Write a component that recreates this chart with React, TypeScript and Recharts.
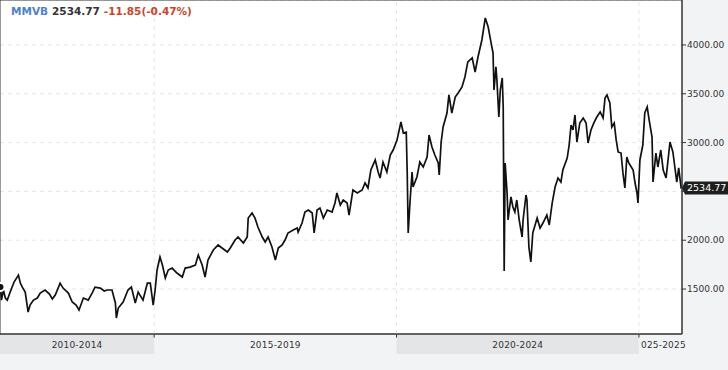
import React from "react";
import { LineChart, Line, XAxis, YAxis, CartesianGrid, ReferenceLine, ReferenceArea } from "recharts";

// ---- data (decimal year, index value) ----
const T = [
  2011.83, 2011.85, 2011.89, 2011.93, 2011.97, 2012.03, 2012.11, 2012.2, 2012.24, 2012.28,
  2012.34, 2012.4, 2012.44, 2012.51, 2012.59, 2012.65, 2012.75, 2012.84, 2012.9, 2012.96,
  2013.06, 2013.12, 2013.23, 2013.31, 2013.39, 2013.45, 2013.54, 2013.64, 2013.72, 2013.78,
  2013.89, 2013.97, 2014.03, 2014.13, 2014.2, 2014.22, 2014.26, 2014.36, 2014.46, 2014.53,
  2014.61, 2014.67, 2014.77, 2014.86, 2014.92, 2014.98, 2015.02, 2015.06, 2015.12, 2015.17,
  2015.23, 2015.29, 2015.37, 2015.47, 2015.58, 2015.64, 2015.74, 2015.85, 2015.91, 2015.99,
  2016.05, 2016.11, 2016.22, 2016.32, 2016.4, 2016.51, 2016.57, 2016.67, 2016.73, 2016.84,
  2016.92, 2016.94, 2017.02, 2017.08, 2017.14, 2017.23, 2017.29, 2017.35, 2017.43, 2017.5,
  2017.56, 2017.64, 2017.7, 2017.76, 2017.87, 2017.95, 2017.97, 2018.05, 2018.11, 2018.18,
  2018.26, 2018.3, 2018.36, 2018.42, 2018.49, 2018.57, 2018.67, 2018.73, 2018.77, 2018.84,
  2018.9, 2018.98, 2019.02, 2019.1, 2019.19, 2019.29, 2019.35, 2019.41, 2019.47, 2019.56,
  2019.62, 2019.66, 2019.72, 2019.8, 2019.87, 2019.93, 2020.01, 2020.09, 2020.14, 2020.2,
  2020.22, 2020.24, 2020.28, 2020.32, 2020.34, 2020.42, 2020.48, 2020.55, 2020.63, 2020.67,
  2020.73, 2020.79, 2020.86, 2020.88, 2020.92, 2020.96, 2021.04, 2021.08, 2021.14, 2021.21,
  2021.27, 2021.35, 2021.41, 2021.47, 2021.56, 2021.62, 2021.68, 2021.76, 2021.83, 2021.89,
  2021.95, 2021.99, 2022.01, 2022.05, 2022.07, 2022.11, 2022.14, 2022.18, 2022.2, 2022.22,
  2022.24, 2022.28, 2022.3, 2022.36, 2022.4, 2022.44, 2022.48, 2022.53, 2022.59, 2022.61,
  2022.67, 2022.69, 2022.73, 2022.77, 2022.81, 2022.9, 2022.96, 2023.02, 2023.1, 2023.15,
  2023.21, 2023.27, 2023.33, 2023.39, 2023.43, 2023.52, 2023.56, 2023.6, 2023.64, 2023.68,
  2023.72, 2023.78, 2023.85, 2023.91, 2023.95, 2024.01, 2024.07, 2024.13, 2024.2, 2024.26,
  2024.3, 2024.34, 2024.4, 2024.44, 2024.49, 2024.53, 2024.57, 2024.63, 2024.67, 2024.71,
  2024.75, 2024.79, 2024.88, 2024.92, 2024.96, 2024.98, 2025.02, 2025.08, 2025.12, 2025.17,
  2025.21, 2025.27, 2025.29, 2025.35, 2025.39, 2025.45, 2025.5, 2025.56, 2025.6, 2025.64,
  2025.7, 2025.74, 2025.78, 2025.82, 2025.87, 2025.88,
];
const V = [
  1520, 1387, 1490, 1408, 1387, 1469, 1572, 1643, 1561, 1520,
  1469, 1264, 1336, 1387, 1408, 1459, 1490, 1449, 1398, 1439,
  1561, 1510, 1459, 1367, 1336, 1285, 1408, 1387, 1459, 1520,
  1510, 1480, 1490, 1490, 1357, 1203, 1305, 1367, 1490, 1520,
  1357, 1469, 1387, 1561, 1561, 1336, 1490, 1695, 1828, 1746,
  1613, 1695, 1715, 1664, 1623, 1715, 1725, 1746, 1848, 1746,
  1623, 1797, 1900, 1951, 1920, 1879, 1920, 2002, 2033, 1971,
  2033, 2227, 2279, 2227, 2135, 2033, 1982, 2033, 1930, 1797,
  1920, 1951, 2002, 2074, 2105, 2125, 2084, 2176, 2289, 2309,
  2279, 2074, 2309, 2330, 2227, 2309, 2289, 2381, 2484, 2361,
  2412, 2381, 2258, 2514, 2484, 2514, 2586, 2535, 2719, 2822,
  2699, 2637, 2801, 2699, 2873, 2924, 3027, 3211, 3098, 3108,
  2689, 2074, 2412, 2699, 2545, 2648, 2801, 2750, 2852, 3078,
  2955, 2873, 2791, 2668, 3006, 3160, 3303, 3488, 3303, 3467,
  3508, 3570, 3672, 3826, 3867, 3723, 3877, 4051, 4277, 4184,
  4021, 3918, 3539, 3775, 3641, 3262, 3539, 3662, 3365, 1684,
  2791, 2484, 2207, 2443, 2340, 2289, 2412, 2207, 2033, 2207,
  2463, 2412, 1930, 1777, 2074, 2227, 2125, 2176, 2258, 2156,
  2381, 2545, 2637, 2596, 2719, 2842, 2975, 3180, 3129, 3283,
  3006, 3201, 3252, 3201, 2996, 3129, 3201, 3262, 3314, 3252,
  3457, 3488, 3406, 3160, 3201, 3027, 2904, 2893, 2689, 2535,
  2852, 2791, 2719, 2586, 2484, 2381, 2822, 2975, 3303, 3365,
  3232, 3057, 2596, 2893, 2750, 2924, 2719, 2637, 2822, 3006,
  2904, 2750, 2596, 2740, 2535, 2534.77,
];

const Y_TICKS = [1500, 2000, 2500, 3000, 3500, 4000];
const PERIOD_LABELS = ["2010-2014", "2015-2019", "2020-2024", "2025-2025"];
const PERIOD_START = [2010, 2015, 2020, 2025];
const PERIOD_END = [2015, 2020, 2025, 2026];
const PERIOD_SHADED = [true, false, true, false];

const SYMBOL = "MMVB";
const LAST = 2534.77;
const CHANGE = -11.85;
const CHANGE_PCT = -0.47;

// ---- layout ----
const W = 728;
const H = 370;
const Y_AXIS_W = 46;
const X_AXIS_H = 36;
const PLOT_W = W - Y_AXIS_W;
const PLOT_H = H - X_AXIS_H;
const X0 = 2011.82;
const X1 = 2025.888;
const Y0 = 1039.5;
const Y1 = 4460.5;
const FONT = "'DejaVu Sans', Verdana, sans-serif";

const data = T.map((t, i) => ({ t, v: V[i] }));
const PERIOD_CENTERS = PERIOD_LABELS.map(
  (_, i) => (Math.max(PERIOD_START[i], X0) + Math.min(PERIOD_END[i], X1)) / 2
);
const PX_PER_YEAR = PLOT_W / (X1 - X0);
const UNITS_PER_PX = (Y1 - Y0) / PLOT_H;

const PeriodTick = (props: any) => {
  const { x, y, index } = props;
  const i = index ?? 0;
  const vs = Math.max(PERIOD_START[i], X0);
  const ve = Math.min(PERIOD_END[i], X1);
  const c = PERIOD_CENTERS[i];
  const left = x - (c - vs) * PX_PER_YEAR;
  const right = x + (ve - c) * PX_PER_YEAR;
  const id = `pclip-${i}`;
  return (
    <g>
      <defs>
        <clipPath id={id}>
          <rect x={left + 1} y={y} width={right - left + 10} height={24} />
        </clipPath>
      </defs>
      {PERIOD_SHADED[i] && (
        <rect x={left} y={y + 1} width={right - left} height={19} fill="#e4e5e7" />
      )}
      {vs > X0 && <line x1={left} x2={left} y1={y} y2={y + 3.5} stroke="#333" />}
      <text
        x={x}
        y={y + 14}
        textAnchor="middle"
        fontSize={9}
        fill="#333"
        fontFamily={FONT}
        letterSpacing={0.2}
        clipPath={`url(#${id})`}
      >
        {PERIOD_LABELS[i]}
      </text>
    </g>
  );
};

// y-axis label; the one hidden behind the last-value tag is not drawn
const PriceTick = (props: any) => {
  const { x, y, payload } = props;
  const v = payload?.value;
  if (Math.abs(v - LAST) < 9 * UNITS_PER_PX) return <g />;
  return (
    <text x={x} y={y + 3.2} fontSize={9} fill="#333" fontFamily={FONT} textAnchor="start">
      {Number(v).toFixed(2)}
    </text>
  );
};

const ValueTag = (props: any) => {
  const vb = props.viewBox || {};
  const tip = vb.x + vb.width;
  const y = vb.y;
  return (
    <g>
      <path
        d={`M${tip},${y} L${tip + 3},${y - 6.5} L${W},${y - 6.5} L${W},${y + 6.5} L${tip + 3},${y + 6.5} Z`}
        fill="#1e1e1e"
      />
      <text x={tip + 5} y={y + 3.4} fill="#fff" fontSize={9.5} fontFamily={FONT}>
        {LAST.toFixed(2)}
      </text>
    </g>
  );
};

export default function App() {
  return (
    <div
      style={{
        position: "absolute",
        left: 0,
        top: 0,
        width: W,
        height: H,
        background: "#f2f3f5",
        fontFamily: FONT,
      }}
    >
      <LineChart width={W} height={H} data={data} margin={{ top: 0, right: 0, bottom: 0, left: 0 }}>
        <CartesianGrid fill="#fff" horizontal={true} vertical={false} stroke="#e6e6e6" strokeDasharray="4 4" />
        {PERIOD_START.filter((s) => s > X0).map((s) => (
          <ReferenceLine key={s} x={s} stroke="#e6e6e6" strokeDasharray="4 4" />
        ))}
        <XAxis
          dataKey="t"
          type="number"
          domain={[X0, X1]}
          allowDataOverflow
          ticks={PERIOD_CENTERS}
          interval={0}
          tickLine={false}
          tickSize={0}
          tickMargin={0}
          axisLine={{ stroke: "#333" }}
          tick={<PeriodTick />}
          height={X_AXIS_H}
        />
        <YAxis
          orientation="right"
          type="number"
          domain={[Y0, Y1]}
          allowDataOverflow
          ticks={Y_TICKS}
          interval={0}
          width={Y_AXIS_W}
          tickSize={4}
          tickMargin={1}
          tickLine={{ stroke: "#333" }}
          axisLine={{ stroke: "#333" }}
          tick={<PriceTick />}
        />
        <ReferenceArea x1={X0} x2={X1} y1={Y0} y2={Y1} fill="none" stroke="#333" ifOverflow="visible" />
        <Line
          dataKey="v"
          type="linear"
          stroke="#111"
          strokeWidth={1.7}
          strokeLinejoin="miter"
          dot={false}
          isAnimationActive={false}
        />
        <ReferenceLine y={LAST} stroke="transparent" ifOverflow="visible" label={<ValueTag />} />
      </LineChart>
      <svg
        width={W}
        height={30}
        style={{ position: "absolute", left: 0, top: 0, pointerEvents: "none" }}
      >
        <text x={11} y={15.2} fontSize={10.5} fontWeight="bold" fontFamily={FONT}>
          <tspan fill="#4f80cc">{SYMBOL}</tspan>
          <tspan fill="#333" dx={4}>{LAST.toFixed(2)}</tspan>
          <tspan fill="#c8462a" dx={4}>
            {`${CHANGE.toFixed(2)}(${CHANGE_PCT.toFixed(2)}%)`}
          </tspan>
        </text>
      </svg>
    </div>
  );
}
